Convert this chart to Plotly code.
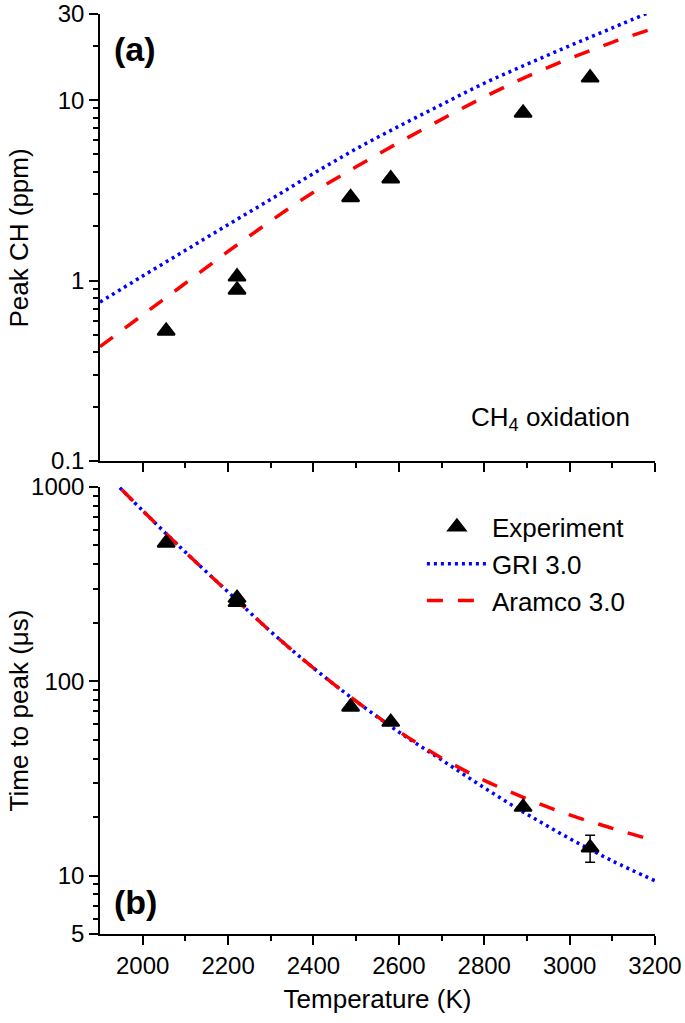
import math
import plotly.graph_objects as go

# ---------------- data ----------------
T_exp = [2055, 2221, 2221, 2487, 2581, 2891, 3048]
peak_ch_exp = [0.526, 1.05, 0.887, 2.89, 3.67, 8.49, 13.3]
time_exp = [515, 268, 255, 73.8, 61.6, 22.5, 13.9]
time_err = [None, None, None, None, None, None, 2.2]

T_model_top = [1900, 2000, 2100, 2200, 2300, 2400, 2500, 2600, 2700, 2800, 2900, 3000, 3100, 3200]
gri_peak = [0.76, 1.06, 1.47, 2.04, 2.82, 3.92, 5.37, 7.16, 9.44, 12.4, 15.8, 20.0, 25.1, 31.6]
aramco_peak = [0.43, 0.645, 0.966, 1.45, 2.14, 3.09, 4.27, 5.82, 7.82, 10.4, 13.5, 17.0, 20.9, 25.1]

T_model_bot = [1900, 2000, 2100, 2200, 2300, 2400, 2500, 2600, 2700, 2800, 2900, 3000, 3100, 3200]
gri_time = [1260, 755, 462, 288, 180, 117, 78.9, 54.8, 39.4, 28.3, 20.7, 15.5, 11.9, 9.4]
aramco_time = [1260, 755, 462, 288, 180, 117, 78.9, 55.2, 40.3, 30.9, 24.8, 20.5, 17.5, 15.1]

x_major = [2000, 2200, 2400, 2600, 2800, 3000, 3200]
x_minor = [2100, 2300, 2500, 2700, 2900, 3100]
y1_major = [0.1, 1, 10, 30]
y1_labels = ["0.1", "1", "10", "30"]
y1_minor = [0.2, 0.3, 0.4, 0.5, 0.6, 0.7, 0.8, 0.9, 2, 3, 4, 5, 6, 7, 8, 9, 20]
y2_major = [5, 10, 100, 1000]
y2_labels = ["5", "10", "100", "1000"]
y2_minor = [6, 7, 8, 9, 20, 30, 40, 50, 60, 70, 80, 90, 200, 300, 400, 500, 600, 700, 800, 900]

FONT = "Liberation Sans, Arial, sans-serif"
BLUE = "#0000ff"
RED = "#ff0000"
GRI_LINE = dict(color=BLUE, width=3.5, dash="3px,4px")
ARA_LINE = dict(color=RED, width=3.5, dash="16px,15px")
MARKER = dict(symbol="triangle-up", size=15, color="black", line=dict(color="black", width=2))

fig = go.Figure()

# bottom panel (legend traces)
fig.add_trace(go.Scatter(x=T_model_bot, y=gri_time, xaxis="x2", yaxis="y2", mode="lines",
                         line=GRI_LINE, line_shape="spline", name="GRI 3.0", legendrank=2))
fig.add_trace(go.Scatter(x=T_model_bot, y=aramco_time, xaxis="x2", yaxis="y2", mode="lines",
                         line=ARA_LINE, line_shape="spline", name="Aramco 3.0", legendrank=3))
fig.add_trace(go.Scatter(x=T_exp, y=time_exp, xaxis="x2", yaxis="y2", mode="markers",
                         marker=MARKER, name="Experiment", legendrank=1,
                         error_y=dict(type="data", array=time_err, color="black",
                                      thickness=1.5, width=5)))

# top panel
fig.add_trace(go.Scatter(x=T_model_top, y=gri_peak, xaxis="x", yaxis="y", mode="lines",
                         line=GRI_LINE, line_shape="spline", showlegend=False))
fig.add_trace(go.Scatter(x=T_model_top, y=aramco_peak, xaxis="x", yaxis="y", mode="lines",
                         line=ARA_LINE, line_shape="spline", showlegend=False))
fig.add_trace(go.Scatter(x=T_exp, y=peak_ch_exp, xaxis="x", yaxis="y", mode="markers",
                         marker=MARKER, showlegend=False))

TICKFONT = dict(family=FONT, size=24, color="black")
common = dict(showline=True, linecolor="black", linewidth=1.5, tickcolor="black",
              tickwidth=1.5, ticklen=9, showgrid=False, zeroline=False,
              automargin=False, tickfont=TICKFONT, ticklabeloverflow="allow")


def xax(anchor, ticks, labels, **kw):
    d = dict(common)
    d.update(range=[1900, 3200], tickmode="array", tickvals=x_major, ticks=ticks,
             showticklabels=labels, anchor=anchor,
             minor=dict(tickmode="array", tickvals=x_minor, ticks=ticks, ticklen=5,
                        tickwidth=1.5, tickcolor="black"))
    d.update(kw)
    return d


def yax(rng, major, labels_txt, minor, anchor, ticks, labels, **kw):
    d = dict(common)
    d.update(type="log", range=rng, tickmode="array", tickvals=major, ticktext=labels_txt,
             ticks=ticks, showticklabels=labels, anchor=anchor,
             minor=dict(tickmode="array", tickvals=minor, ticks=ticks, ticklen=5,
                        tickwidth=1.5, tickcolor="black"))
    d.update(kw)
    return d


top_dom = [0.5141, 1.0]
bot_dom = [0.0, 0.4859]
y1_rng = [-1, math.log10(30)]
y2_rng = [math.log10(5), 3]

fig.update_layout(
    width=685, height=1023,
    margin=dict(l=100, r=30, t=14, b=89),
    paper_bgcolor="white", plot_bgcolor="white",
    font=dict(family=FONT, color="black"),
    xaxis=xax("y", "outside", False, domain=[0, 1]),
    xaxis2=xax("y2", "outside", True, domain=[0, 1],
               title=dict(text="Temperature (K)", font=dict(family=FONT, size=26), standoff=12)),
    xaxis3=xax("y", "inside", False, overlaying="x", side="top"),
    xaxis4=xax("y2", "inside", False, overlaying="x2", side="top"),
    yaxis=yax(y1_rng, y1_major, y1_labels, y1_minor, "x", "outside", True, domain=top_dom),
    yaxis2=yax(y2_rng, y2_major, y2_labels, y2_minor, "x2", "outside", True, domain=bot_dom),
    yaxis3=yax(y1_rng, y1_major, y1_labels, y1_minor, "x", "inside", False,
               overlaying="y", side="right"),
    yaxis4=yax(y2_rng, y2_major, y2_labels, y2_minor, "x2", "inside", False,
               overlaying="y2", side="right"),
    legend=dict(x=0.58, y=0.468, xanchor="left", yanchor="top",
                bgcolor="rgba(0,0,0,0)", font=dict(family=FONT, size=26),
                itemwidth=60, tracegroupgap=0),
    showlegend=True,
)

ann = [
    dict(text="<b>(a)</b>", x=0.0216, y=0.962, font=dict(size=34)),
    dict(text="<b>(b)</b>", x=0.0216, y=0.0348, font=dict(size=34)),
]
for a in ann:
    fig.add_annotation(xref="paper", yref="paper", xanchor="left", yanchor="middle",
                       showarrow=False, font_family=FONT, **a)

fig.add_annotation(text="CH<sub>4</sub> oxidation", xref="paper", yref="paper",
                   x=0.9586, y=0.56, xanchor="right", yanchor="middle", showarrow=False,
                   font=dict(family=FONT, size=26))
fig.add_annotation(text="Peak CH (ppm)", xref="paper", yref="paper", x=-0.146, y=0.757,
                   xanchor="center", yanchor="middle", textangle=-90, showarrow=False,
                   font=dict(family=FONT, size=26))
fig.add_annotation(text="Time to peak (μs)", xref="paper", yref="paper", x=-0.146, y=0.243,
                   xanchor="center", yanchor="middle", textangle=-90, showarrow=False,
                   font=dict(family=FONT, size=26))

fig.write_html("out.html", config={"displayModeBar": False},
               post_script="document.body.style.margin='0';")
